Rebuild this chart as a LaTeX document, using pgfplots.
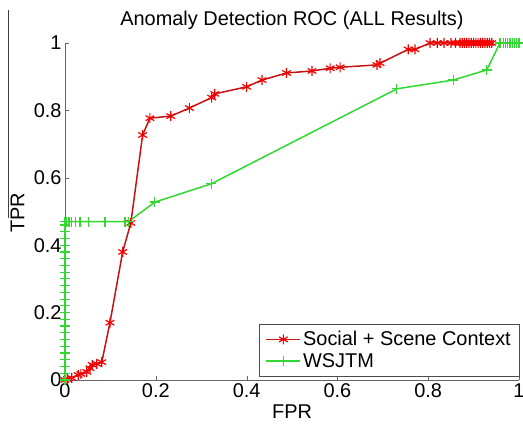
\documentclass[border=0pt]{standalone}
\usepackage{pgfplots}
\pgfplotsset{compat=1.18}
\usepackage{fontspec}
\setmainfont{Liberation Sans}
\definecolor{redline}{RGB}{195,20,20}
\definecolor{redmark}{RGB}{245,0,0}
\definecolor{greenline}{RGB}{50,215,50}
\begin{document}
\begin{tikzpicture}
\useasboundingbox (-65bp,-45bp) rectangle (458bp,380bp);
% stray vertical line at the left edge of the screenshot
\draw[black!75, line width=0.8bp] (-56.5bp,162bp) -- (-56.5bp,370bp);
\begin{axis}[
	at={(0,0)}, anchor=south west,
	scale only axis,
	width=454bp, height=337bp,
	xmin=0, xmax=1, ymin=0, ymax=1,
	xtick={0,0.2,...,1}, ytick={0,0.2,...,1},
	xticklabels={0,0.2,0.4,0.6,0.8,1},
	yticklabels={0,0.2,0.4,0.6,0.8,1},
	axis x line*=bottom, axis y line*=left,
	axis line style={black!60},
	tick align=inside,
	major tick length=4bp,
	tick style={black!60},
	clip=false,
	font=\fontsize{20}{24}\selectfont,
	/pgf/number format/assume math mode=true,
	title={Anomaly Detection ROC (ALL Results)},
	title style={at={(axis description cs:0.5,1)}, anchor=center, yshift=17bp},
	xlabel={FPR}, ylabel={TPR},
	xlabel style={at={(axis description cs:0.5,0)}, anchor=center, yshift=-32bp},
	ylabel style={at={(axis description cs:-0.1046,0.496)}, anchor=center},
	legend style={at={(1,0.012)}, anchor=south east, draw=black!70,
		font=\fontsize{20}{24}\selectfont, row sep=2bp,
		inner xsep=6bp, inner ysep=5bp},
	legend image code/.code={%
		\draw[mark repeat=2, mark phase=2, #1]
		plot coordinates {(0bp,0bp) (17bp,0bp) (34bp,0bp)};},
	legend cell align=left,
]
	% social + scene context
	\addplot[color=redline, line width=1.5bp, mark=asterisk, mark size=5bp,
		mark options={redmark, line width=1.2bp}] coordinates {
		(0,0) (0.005,0.003) (0.015,0.006) (0.029,0.015) (0.035,0.018)
		(0.048,0.024) (0.055,0.035) (0.06,0.045) (0.07,0.048) (0.081,0.053)
		(0.099,0.17) (0.127,0.38) (0.145,0.466) (0.171,0.727) (0.187,0.777)
		(0.233,0.783) (0.274,0.807) (0.323,0.838) (0.33,0.849) (0.40,0.87)
		(0.434,0.89) (0.488,0.911) (0.544,0.917) (0.584,0.925) (0.606,0.928)
		(0.687,0.935) (0.694,0.94) (0.756,0.981) (0.771,0.981)
		(0.804,1) (0.82,1) (0.835,1) (0.85,1) (0.86,1) (0.87,1) (0.875,1)
		(0.88,1) (0.885,1) (0.89,1) (0.895,1) (0.9,1) (0.905,1) (0.91,1)
		(0.915,1) (0.92,1) (0.925,1) (0.93,1) (0.935,1) (0.94,1)};
	\addlegendentry{Social + Scene Context}

	% WSJTM
	\addplot[color=greenline, line width=1.5bp, mark=+, mark size=5bp,
		mark options={line width=1.2bp}] coordinates {
		(0,0) (0,0.02) (0,0.04) (0,0.06) (0,0.08) (0,0.10) (0,0.12) (0,0.14)
		(0,0.16) (0,0.18) (0,0.20) (0,0.22) (0,0.24) (0,0.26) (0,0.28) (0,0.30)
		(0,0.32) (0,0.34) (0,0.36) (0,0.38) (0,0.40) (0,0.42) (0,0.44) (0,0.46)
		(0,0.47) (0.002,0.47) (0.004,0.47) (0.007,0.47) (0.01,0.47) (0.015,0.47)
		(0.024,0.47) (0.033,0.47) (0.051,0.47) (0.088,0.47) (0.132,0.47)
		(0.14,0.47) (0.198,0.528) (0.322,0.582) (0.731,0.864) (0.855,0.89)
		(0.929,0.92) (0.958,1) (0.965,1) (0.97,1) (0.975,1) (0.98,1) (0.985,1)
		(0.99,1) (0.995,1) (1,1)};
	\addlegendentry{WSJTM}
\end{axis}
\end{tikzpicture}
\end{document}
